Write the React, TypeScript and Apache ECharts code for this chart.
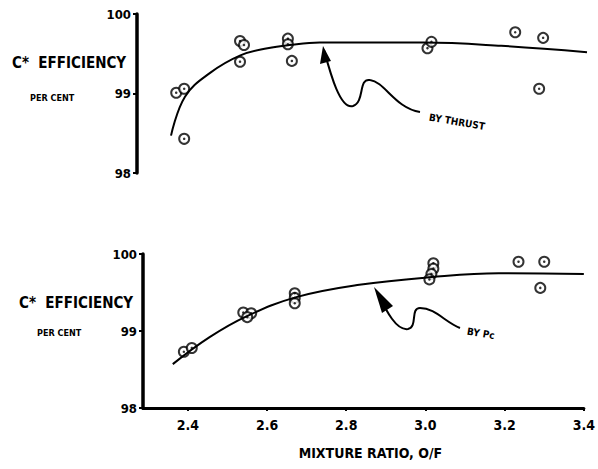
import React, { useEffect, useRef } from "react";
import * as echarts from "echarts";

// ---- data ----
const yTicks = [98, 99, 100];
const xTicks = [2.4, 2.6, 2.8, 3.0, 3.2, 3.4];

const thrustX = [2.37, 2.39, 2.39, 2.53, 2.54, 2.53, 2.65, 2.65, 2.66, 3.0, 3.01, 3.22, 3.29, 3.28];
const thrustY = [99.01, 99.06, 98.43, 99.66, 99.61, 99.4, 99.69, 99.62, 99.41, 99.57, 99.65, 99.77, 99.7, 99.06];

const thrustCurveX = [2.357, 2.392, 2.455, 2.531, 2.599, 2.654, 2.73, 2.99, 3.185, 3.4];
const thrustCurveY = [98.47, 98.96, 99.26, 99.48, 99.57, 99.61, 99.64, 99.64, 99.6, 99.52];

const pcX = [2.39, 2.41, 2.54, 2.56, 2.55, 2.67, 2.67, 2.67, 3.02, 3.02, 3.015, 3.01, 3.235, 3.3, 3.29];
const pcY = [98.73, 98.78, 99.24, 99.23, 99.18, 99.49, 99.43, 99.36, 99.88, 99.81, 99.74, 99.67, 99.9, 99.9, 99.56];

const pcCurveX = [2.362, 2.455, 2.548, 2.674, 2.833, 3.016, 3.185, 3.4];
const pcCurveY = [98.57, 98.92, 99.19, 99.44, 99.6, 99.7, 99.75, 99.74];

const FONT = "'Liberation Sans Narrow', 'DejaVu Sans Condensed', 'Arial Narrow', sans-serif";

echarts.graphic.registerShape(
  "arrowThrust",
  echarts.graphic.extendPath(
    "M324 50 C330 72 340 110 353 106 C365 102 358 78 370 80 C385 82 395 108 420 112",
    {}
  ) as any
);
echarts.graphic.registerShape(
  "arrowPc",
  echarts.graphic.extendPath(
    "M377 292 C386 310 396 331 408 329 C418 327 410 308 420 308 C435 308 445 322 460 328",
    {}
  ) as any
);

function zip(xs: number[], ys: number[]) {
  return xs.map((x, i) => [x, ys[i]]);
}

export default function App() {
  const ref = useRef<HTMLDivElement>(null);
  useEffect(() => {
    document.body.style.margin = "0";
    const chart = echarts.init(ref.current!, null, { renderer: "svg" });
    const yAxisCommon = {
      type: "value" as const,
      min: 98,
      max: 100,
      interval: 1,
      axisLine: { show: true, lineStyle: { color: "#000", width: 3.5 } },
      axisTick: { show: true, length: 4, lineStyle: { color: "#000", width: 2 } },
      axisLabel: {
        color: "#000",
        fontFamily: FONT,
        fontWeight: "bold" as const,
        fontSize: 13,
        margin: 6,
        customValues: yTicks,
      },
      splitLine: { show: false },
    };
    const circle = {
      symbol: "circle",
      symbolSize: 10,
      itemStyle: { color: "#fff", borderColor: "#000", borderWidth: 2 },
    };
    const dot = {
      symbol: "circle",
      symbolSize: 2.5,
      itemStyle: { color: "#000" },
    };
    chart.setOption({
      animation: false,
      backgroundColor: "#fff",
      grid: [
        { left: 137, top: 14, width: 450, height: 159 },
        { left: 143, top: 254, width: 443, height: 154 },
      ],
      xAxis: [
        {
          gridIndex: 0,
          type: "value",
          min: 2.2717,
          max: 3.4,
          show: false,
          splitLine: { show: false },
        },
        {
          gridIndex: 1,
          type: "value",
          min: 2.2868,
          max: 3.4,
          axisLine: { show: true, onZero: false, lineStyle: { color: "#000", width: 3 } },
          axisTick: { show: true, length: 3, customValues: xTicks, lineStyle: { color: "#000", width: 2 } },
          axisLabel: {
            color: "#000",
            fontFamily: FONT,
            fontWeight: "bold",
            fontSize: 14,
            margin: 10,
            customValues: xTicks,
            formatter: (v: number) => v.toFixed(1),
          },
          splitLine: { show: false },
          name: "MIXTURE RATIO, O/F",
          nameLocation: "middle",
          nameGap: 38,
          nameTextStyle: {
            color: "#000",
            fontFamily: FONT,
            fontWeight: "bold",
            fontSize: 14,
            padding: [0, 0, 0, 14],
          },
        },
      ],
      yAxis: [
        { ...yAxisCommon, gridIndex: 0 },
        { ...yAxisCommon, gridIndex: 1 },
      ],
      series: [
        {
          type: "line",
          xAxisIndex: 0,
          yAxisIndex: 0,
          data: zip(thrustCurveX, thrustCurveY),
          smooth: 0.4,
          showSymbol: false,
          lineStyle: { color: "#000", width: 2 },
        },
        { type: "scatter", xAxisIndex: 0, yAxisIndex: 0, data: zip(thrustX, thrustY), ...circle },
        { type: "scatter", xAxisIndex: 0, yAxisIndex: 0, data: zip(thrustX, thrustY), ...dot },
        {
          type: "line",
          xAxisIndex: 1,
          yAxisIndex: 1,
          data: zip(pcCurveX, pcCurveY),
          smooth: 0.4,
          showSymbol: false,
          lineStyle: { color: "#000", width: 2 },
        },
        { type: "scatter", xAxisIndex: 1, yAxisIndex: 1, data: zip(pcX, pcY), ...circle },
        { type: "scatter", xAxisIndex: 1, yAxisIndex: 1, data: zip(pcX, pcY), ...dot },
      ],
      graphic: [
        {
          type: "text",
          left: 12,
          top: 55,
          style: { text: "C*  EFFICIENCY", font: `bold 15px ${FONT}`, fill: "#000" },
        },
        {
          type: "text",
          left: 30,
          top: 93,
          style: { text: "PER CENT", font: `bold 9px ${FONT}`, fill: "#000" },
        },
        {
          type: "text",
          left: 19,
          top: 295,
          style: { text: "C*  EFFICIENCY", font: `bold 15px ${FONT}`, fill: "#000" },
        },
        {
          type: "text",
          left: 37,
          top: 328,
          style: { text: "PER CENT", font: `bold 9px ${FONT}`, fill: "#000" },
        },
        {
          type: "arrowThrust",
          shape: {},
          style: { stroke: "#000", fill: "none", lineWidth: 2 },
        },
        {
          type: "polygon",
          shape: { points: [[323, 46], [320, 64], [331, 61]] },
          style: { fill: "#000" },
        },
        {
          type: "text",
          x: 430,
          y: 112,
          rotation: -0.17,
          style: { text: "BY THRUST", font: `bold 10px ${FONT}`, fill: "#000" },
        },
        {
          type: "arrowPc",
          shape: {},
          style: { stroke: "#000", fill: "none", lineWidth: 2 },
        },
        {
          type: "polygon",
          shape: { points: [[374, 287], [382, 313], [393, 306]] },
          style: { fill: "#000" },
        },
        {
          type: "text",
          x: 468,
          y: 326,
          rotation: -0.17,
          style: { text: "BY Pc", font: `bold 10px ${FONT}`, fill: "#000" },
        },
      ],
    });
    return () => chart.dispose();
  }, []);
  return <div ref={ref} style={{ width: 598, height: 469 }} />;
}
